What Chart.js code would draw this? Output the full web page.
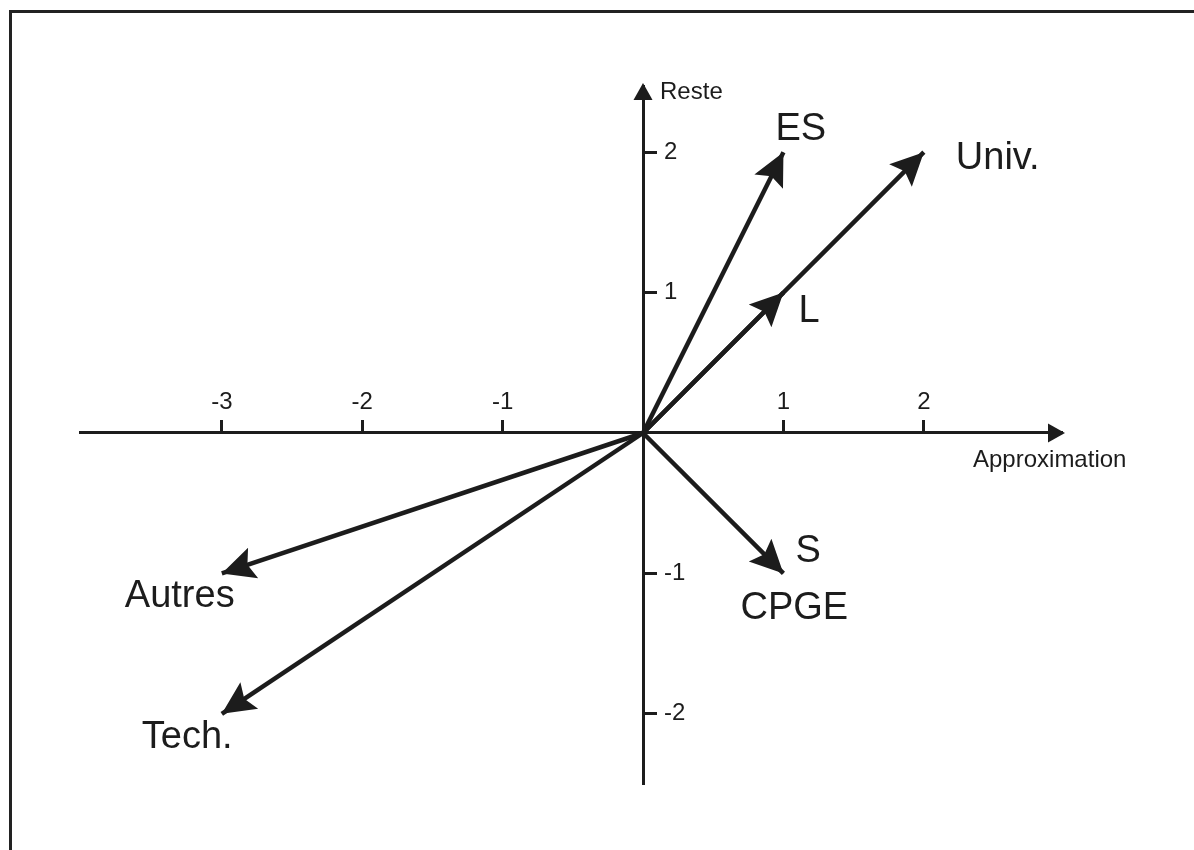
<!DOCTYPE html>
<html>
<head>
<meta charset="utf-8">
<title>Approximation / Reste</title>
<script src="https://cdn.jsdelivr.net/npm/chart.js@4.4.1/dist/chart.umd.min.js"></script>
<style>
  html, body { margin: 0; padding: 0; background: #fff; }
  canvas { display: block; }
</style>
</head>
<body>
<canvas id="chart" width="1194" height="850"></canvas>
<script>
// vecteurs : coordonnées de la pointe de chaque flèche (origine en 0,0)
var vectorNames = ['ES', 'Univ.', 'L', 'S', 'Autres', 'Tech.'];
var vectorSubNames = ['', '', '', 'CPGE', '', ''];
var approximation = [1, 2, 1, 1, -3, -3];
var reste = [2, 2, 1, -1, -1, -2];

var xTickValues = [-3, -2, -1, 1, 2];
var xTickLabels = ['-3', '-2', '-1', '1', '2'];
var yTickValues = [-2, -1, 1, 2];
var yTickLabels = ['-2', '-1', '1', '2'];

var xTitle = 'Approximation';
var yTitle = 'Reste';

var ink = '#1c1c1c';
var family = '"Liberation Sans", Arial, Helvetica, sans-serif';
var bigFont = '38px ' + family;
var smallFont = '24px ' + family;

// décalage des étiquettes par rapport à la pointe (gauche, ligne de base)
var labelOffsets = [[-8, -12], [32, 17], [15, 29], [12, -11], [-97, 34], [-80, 34]];
var subOffsets = [null, null, null, [-43, 46], null, null];

function arrowHead(ctx, x, y, angle, len, half, notch) {
    var c = Math.cos(angle), s = Math.sin(angle);
    ctx.beginPath();
    ctx.moveTo(x, y);
    ctx.lineTo(x - c * len - s * half, y - s * len + c * half);
    ctx.lineTo(x - c * notch, y - s * notch);
    ctx.lineTo(x - c * len + s * half, y - s * len - c * half);
    ctx.closePath();
    ctx.fill();
}

var arrowsPlugin = {
    id: 'arrows',
    beforeDraw: function (chart) {
        var ctx = chart.ctx;
        // cadre (haut et gauche)
        ctx.save();
        ctx.strokeStyle = '#222';
        ctx.lineWidth = 3;
        ctx.beginPath();
        ctx.moveTo(10.5, 850);
        ctx.lineTo(10.5, 11.5);
        ctx.lineTo(1194, 11.5);
        ctx.stroke();
        ctx.restore();
    },
    afterDatasetsDraw: function (chart) {
        var ctx = chart.ctx;
        var xs = chart.scales.x, ys = chart.scales.y, area = chart.chartArea;
        var x0 = xs.getPixelForValue(0), y0 = ys.getPixelForValue(0);
        ctx.save();
        ctx.fillStyle = ink;

        chart.data.datasets.forEach(function (ds, i) {
            var pts = chart.getDatasetMeta(i).data;
            var a = pts[0], b = pts[pts.length - 1];
            var ang = Math.atan2(b.y - a.y, b.x - a.x);
            arrowHead(ctx, b.x, b.y, ang, 33, 16, 27);

            ctx.font = bigFont;
            ctx.textAlign = 'left';
            ctx.textBaseline = 'alphabetic';
            ctx.fillText(vectorNames[i], b.x + labelOffsets[i][0], b.y + labelOffsets[i][1]);
            if (vectorSubNames[i]) {
                ctx.fillText(vectorSubNames[i], b.x + subOffsets[i][0], b.y + subOffsets[i][1]);
            }
        });

        // flèches des axes
        arrowHead(ctx, area.right + 3, y0, 0, 17, 9.5, 17);
        arrowHead(ctx, x0, area.top - 3, -Math.PI / 2, 17, 9.5, 17);

        // étiquettes de l'axe vertical, à droite de l'axe
        ctx.font = smallFont;
        ctx.textAlign = 'left';
        ctx.textBaseline = 'middle';
        ys.ticks.forEach(function (t) {
            ctx.fillText(t.label, x0 + 21, ys.getPixelForValue(t.value));
        });

        // titres des axes
        ctx.textBaseline = 'alphabetic';
        ctx.fillText(yTitle, x0 + 17, area.top + 13);
        ctx.fillText(xTitle, area.right - 89, y0 + 34);
        ctx.restore();
    }
};

var datasets = vectorNames.map(function (name, i) {
    return {
        label: name,
        data: [{x: 0, y: 0}, {x: approximation[i], y: reste[i]}],
        showLine: true,
        borderColor: ink,
        borderWidth: 4.5,
        borderCapStyle: 'butt',
        pointRadius: 0,
        pointHoverRadius: 0,
        fill: false
    };
});

var ctx = document.getElementById('chart').getContext('2d');
var myChart = new Chart(ctx, {
    type: 'scatter',
    data: { datasets: datasets },
    plugins: [arrowsPlugin],
    options: {
        responsive: false,
        animation: false,
        events: [],
        layout: {
            padding: { left: 80, right: 132, top: 86, bottom: 66 }
        },
        plugins: {
            legend: { display: false },
            tooltip: { enabled: false }
        },
        scales: {
            x: {
                type: 'linear',
                position: { y: 0 },
                min: -4.01,
                max: 2.984,
                afterBuildTicks: function (scale) {
                    scale.ticks = xTickValues.map(function (v) { return {value: v}; });
                },
                grid: {
                    drawOnChartArea: false,
                    drawTicks: true,
                    tickLength: -14,
                    tickWidth: 3,
                    tickColor: ink
                },
                border: { display: true, color: ink, width: 3 },
                ticks: {
                    padding: -31,
                    color: ink,
                    font: { family: family, size: 24 },
                    maxRotation: 0,
                    autoSkip: false,
                    callback: function (value, index) { return xTickLabels[index]; }
                }
            },
            y: {
                type: 'linear',
                position: { x: 0 },
                min: -2.5,
                max: 2.4715,
                afterBuildTicks: function (scale) {
                    scale.ticks = yTickValues.map(function (v) { return {value: v}; });
                },
                grid: {
                    drawOnChartArea: false,
                    drawTicks: true,
                    tickLength: -15,
                    tickWidth: 3,
                    tickColor: ink
                },
                border: { display: true, color: ink, width: 3 },
                ticks: {
                    display: false,
                    autoSkip: false,
                    font: { family: family, size: 24 },
                    callback: function (value, index) { return yTickLabels[index]; }
                }
            }
        }
    }
});
</script>
</body>
</html>
